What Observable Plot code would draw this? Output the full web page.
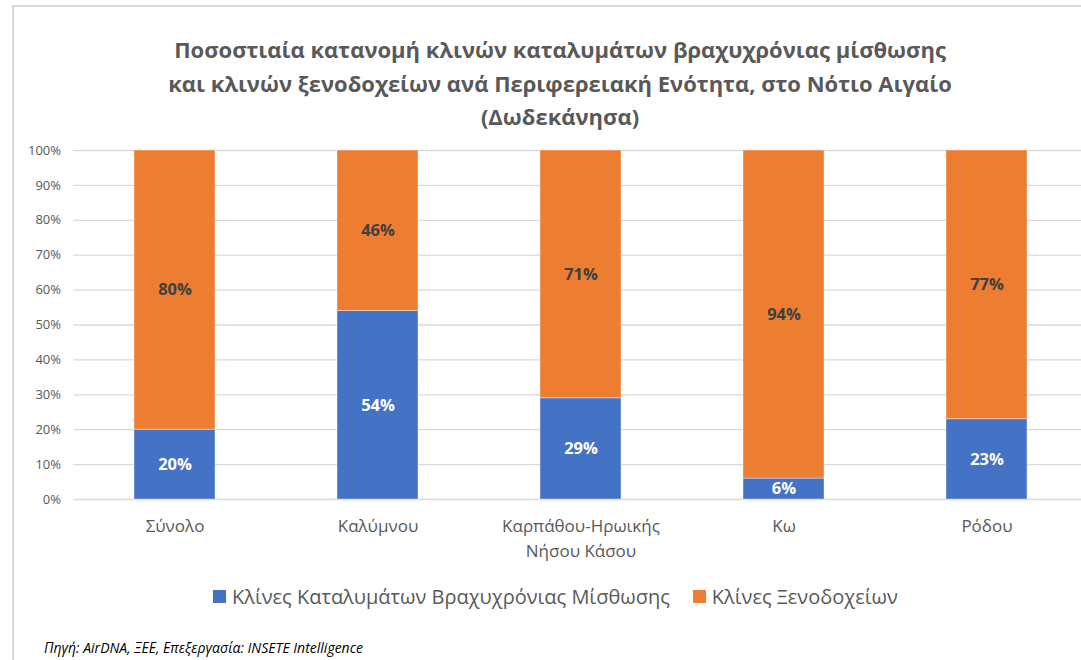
<!DOCTYPE html>
<html>
<head>
<meta charset="utf-8">
<script src="https://cdn.jsdelivr.net/npm/d3@7"></script>
<script src="https://cdn.jsdelivr.net/npm/@observablehq/plot@0.6"></script>
<style>
  html, body { margin: 0; padding: 0; background: #fff; overflow: hidden; }
  #wrap { position: relative; width: 1081px; height: 660px; overflow: hidden; }
  #frame { position: absolute; left: 12px; top: 5px; width: 1200px; height: 800px;
           border-top: 2px solid #d9d9d9; border-left: 2px solid #d9d9d9; box-sizing: border-box; }
  #title { position: absolute; left: 0; width: 1120px; top: 33px; text-align: center;
           font-family: "Open Sans", sans-serif; font-weight: bold;
           font-size: 22px; line-height: 33.5px; color: #595959; }
  #chart { position: absolute; left: 0; top: 0; }
  #chart svg { max-width: none !important; }
  #legend { position: absolute; top: 583px; left: 213px; display: flex; align-items: center;
            font-family: "Open Sans", sans-serif; font-size: 20px; color: #595959; white-space: nowrap; }
  #legend .sw { display: inline-block; width: 13px; height: 13px; margin-right: 6px; }
  #legend .item { display: flex; align-items: center; }
  #foot { position: absolute; left: 44px; top: 638px; font-family: "Open Sans", sans-serif;
          font-style: italic; font-size: 14px; color: #000; white-space: nowrap; }
</style>
</head>
<body>
<div id="wrap">
  <div id="frame"></div>
  <div id="title">Ποσοστιαία κατανομή κλινών καταλυμάτων βραχυχρόνιας μίσθωσης<br>και κλινών ξενοδοχείων ανά Περιφερειακή Ενότητα, στο Νότιο Αιγαίο<br>(Δωδεκάνησα)</div>
  <div id="chart"></div>
  <div id="legend"></div>
  <div id="foot">Πηγή: AirDNA, ΞΕΕ, Επεξεργασία: INSETE Intelligence</div>
</div>
<script>
const regions = ["Σύνολο", "Καλύμνου", "Καρπάθου-Ηρωικής\nΝήσου Κάσου", "Κω", "Ρόδου"];
const seriesNames = ["Κλίνες Καταλυμάτων Βραχυχρόνιας Μίσθωσης", "Κλίνες Ξενοδοχείων"];
const shortTerm = [0.20, 0.54, 0.29, 0.06, 0.23];
const hotels = [0.80, 0.46, 0.71, 0.94, 0.77];
const yTicks = [0, 0.1, 0.2, 0.3, 0.4, 0.5, 0.6, 0.7, 0.8, 0.9, 1.0];
const colors = ["#4472C4", "#ED7D31"];
const labelColors = ["#ffffff", "#404040"];

const rows = [];
regions.forEach((r, i) => {
  rows.push({region: r, series: seriesNames[0], value: shortTerm[i], idx: 0});
  rows.push({region: r, series: seriesNames[1], value: hotels[i], idx: 1});
});

const chart = Plot.plot({
  width: 1090,
  height: 570,
  marginTop: 150,
  marginBottom: 71,
  marginLeft: 73.5,
  marginRight: 1.5,
  style: {fontFamily: "Open Sans, sans-serif", color: "#595959", background: "transparent", maxWidth: "none"},
  x: {domain: regions, paddingInner: 0.6, paddingOuter: 0.3, label: null},
  y: {domain: [0, 1], label: null},
  color: {domain: seriesNames, range: colors},
  marks: [
    Plot.gridY(yTicks, {stroke: "#d9d9d9", strokeOpacity: 1, strokeWidth: 1.3}),
    Plot.axisY({ticks: yTicks, tickSize: 0, tickPadding: 13, fontSize: 13, fill: "#595959",
                tickFormat: d => Math.round(d * 100) + "%"}),
    Plot.axisX({tickSize: 0, tickPadding: 14, fontSize: 17, fill: "#595959", lineHeight: 1.5}),
    Plot.barY(rows, Plot.stackY({x: "region", y: "value", fill: "series", order: "idx",
                                 stroke: "#ffffff", strokeOpacity: 0.4, strokeWidth: 1})),
    Plot.text(rows, Plot.stackY({x: "region", y: "value", order: "idx",
                                 text: d => Math.round(d.value * 100) + "%",
                                 fill: d => labelColors[d.idx],
                                 fontSize: 16.5, fontWeight: "bold"}))
  ]
});
document.getElementById("chart").appendChild(chart);

const legend = document.getElementById("legend");
seriesNames.forEach((name, i) => {
  const item = document.createElement("span");
  item.className = "item";
  if (i > 0) item.style.marginLeft = "23px";
  const sw = document.createElement("span");
  sw.className = "sw";
  sw.style.background = colors[i];
  item.appendChild(sw);
  const t = document.createElement("span");
  t.textContent = name;
  item.appendChild(t);
  legend.appendChild(item);
});
</script>
</body>
</html>
